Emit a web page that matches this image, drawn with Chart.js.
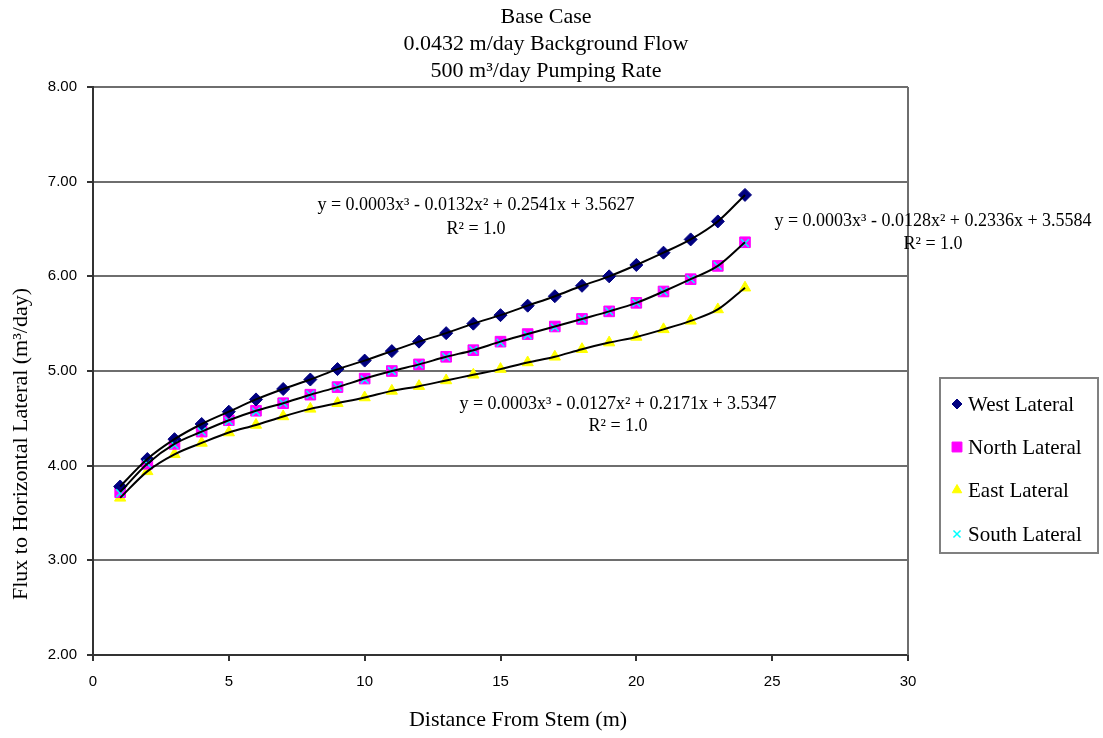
<!DOCTYPE html>
<html>
<head>
<meta charset="utf-8">
<script src="https://cdn.jsdelivr.net/npm/chart.js@4/dist/chart.umd.min.js"></script>
<style>
html,body{margin:0;padding:0;background:#fff;}
#wrap{width:1103px;height:738px;}
</style>
</head>
<body>
<div id="wrap"><canvas id="c" width="1103" height="738"></canvas></div>
<script>
const distance = [1,2,3,4,5,6,7,8,9,10,11,12,13,14,15,16,17,18,19,20,21,22,23,24];
const westLateral  = [3.78,4.07,4.28,4.44,4.57,4.70,4.81,4.91,5.02,5.11,5.21,5.31,5.40,5.50,5.59,5.69,5.79,5.90,6.00,6.12,6.25,6.39,6.58,6.86];
const northLateral = [3.72,4.02,4.23,4.36,4.48,4.58,4.66,4.75,4.83,4.92,5.00,5.07,5.15,5.22,5.31,5.39,5.47,5.55,5.63,5.72,5.84,5.97,6.11,6.36];
const eastLateral  = [3.66,3.94,4.12,4.24,4.35,4.43,4.52,4.60,4.66,4.72,4.79,4.84,4.90,4.96,5.02,5.09,5.15,5.23,5.30,5.36,5.44,5.53,5.65,5.88];
const southLateral = [3.71,4.02,4.22,4.36,4.47,4.57,4.66,4.75,4.83,4.91,5.00,5.07,5.15,5.22,5.30,5.38,5.46,5.55,5.63,5.72,5.84,5.97,6.11,6.35];
const seriesNames = ['West Lateral','North Lateral','East Lateral','South Lateral'];
const titleLines = ['Base Case','0.0432 m/day Background Flow','500 m\u00B3/day Pumping Rate'];
const xTitle = 'Distance From Stem (m)';
const yTitle = 'Flux to Horizontal Lateral (m\u00B3/day)';
const trendEquations = [
  ['y = 0.0003x\u00B3 - 0.0132x\u00B2 + 0.2541x + 3.5627','R\u00B2 = 1.0'],
  ['y = 0.0003x\u00B3 - 0.0128x\u00B2 + 0.2336x + 3.5584','R\u00B2 = 1.0'],
  ['y = 0.0003x\u00B3 - 0.0127x\u00B2 + 0.2171x + 3.5347','R\u00B2 = 1.0']
];

const SERIF = '"Liberation Serif","Times New Roman",serif';
const SANS = '"Liberation Sans",Arial,sans-serif';
const pts = arr => distance.map((d,i)=>({x:d,y:arr[i]}));

const styles = [
  {color:'#000080', pointStyle:'rectRot', radius:6.5, legendRadius:5},
  {color:'#FF00FF', pointStyle:'rect', radius:7.5, legendRadius:7},
  {color:'#FFFF00', pointStyle:'triangle', radius:6.5, legendRadius:5.5},
  {color:'#00FFFF', pointStyle:'crossRot', radius:5.5, legendRadius:5}
];
const seriesData = [westLateral, northLateral, eastLateral, southLateral];

const datasets = [];
seriesData.forEach((arr,i)=>{
  const s = styles[i];
  datasets.push({
    label: seriesNames[i],
    data: pts(arr),
    showLine: false,
    pointStyle: s.pointStyle,
    pointRadius: s.radius,
    pointBackgroundColor: s.color,
    pointBorderColor: s.color,
    pointBorderWidth: i===3 ? 1.5 : 1,
    order: i===3 ? 1 : 2
  });
});
// trendlines: smooth curves through the read values
[westLateral, northLateral, eastLateral].forEach((arr)=>{
  datasets.push({
    label: 'trend',
    data: pts(arr),
    showLine: true,
    borderColor: '#000000',
    borderWidth: 2,
    pointRadius: 0,
    cubicInterpolationMode: 'monotone',
    fill: false,
    order: 0
  });
});

const eqPos = [
  {x:476, y1:205, y2:229},
  {x:933, y1:221, y2:244},
  {x:618, y1:404, y2:426}
];

const extras = {
  id:'extras',
  afterDraw(chart){
    const ctx = chart.ctx;
    const a = chart.chartArea;
    ctx.save();
    // right border
    ctx.strokeStyle = '#6e6e6e';
    ctx.lineWidth = 2;
    ctx.beginPath();
    ctx.moveTo(a.right, a.top);
    ctx.lineTo(a.right, a.bottom);
    ctx.stroke();

    ctx.fillStyle = '#000';
    ctx.textAlign = 'center';
    ctx.textBaseline = 'middle';

    // title
    ctx.font = '22px ' + SERIF;
    titleLines.forEach((t,i)=> ctx.fillText(t, 546, 17 + i*27));

    // trendline equations
    ctx.font = '18px ' + SERIF;
    trendEquations.forEach((eq,i)=>{
      ctx.fillText(eq[0], eqPos[i].x, eqPos[i].y1);
      ctx.fillText(eq[1], eqPos[i].x, eqPos[i].y2);
    });

    // axis titles
    ctx.font = '22px ' + SERIF;
    ctx.fillText(xTitle, 518, 720);
    ctx.save();
    ctx.translate(21, 444);
    ctx.rotate(-Math.PI/2);
    ctx.fillText(yTitle, 0, 0);
    ctx.restore();

    // legend
    ctx.strokeStyle = '#808080';
    ctx.lineWidth = 2;
    ctx.strokeRect(940, 378, 158, 175);
    const ly = [404, 447, 490, 534];
    ctx.font = '21px ' + SERIF;
    ctx.textAlign = 'left';
    seriesNames.forEach((n,i)=>{
      const s = styles[i];
      ctx.fillStyle = s.color;
      ctx.strokeStyle = s.color;
      ctx.lineWidth = i===3 ? 1.5 : 1;
      Chart.helpers.drawPoint(ctx, {pointStyle:s.pointStyle, radius:s.legendRadius, rotation:0, borderWidth:ctx.lineWidth}, 957, ly[i]);
      ctx.fillStyle = '#000';
      ctx.fillText(n, 968, ly[i]+1);
    });
    ctx.restore();
  }
};

new Chart(document.getElementById('c'), {
  type: 'scatter',
  data: { datasets },
  options: {
    responsive: false,
    animation: false,
    layout: { padding: { left: 0, right: 195, top: 87, bottom: 0 } },
    plugins: {
      legend: { display: false },
      tooltip: { enabled: false },
      title: { display: false }
    },
    scales: {
      x: {
        type: 'linear',
        min: 0, max: 30,
        ticks: { stepSize: 5, color: '#000', font: { family: SANS, size: 15 }, padding: 12, maxRotation: 0 },
        grid: { drawOnChartArea: false, drawTicks: true, tickLength: 6, color: '#333', lineWidth: 2 },
        border: { display: true, color: '#333', width: 2 },
        afterFit: s => { s.height = 83; }
      },
      y: {
        type: 'linear',
        min: 2, max: 8,
        ticks: { stepSize: 1, color: '#000', font: { family: SANS, size: 15 }, padding: 10, callback: v => v.toFixed(2) },
        grid: { color: '#6e6e6e', lineWidth: 2, tickLength: 6, tickColor: '#333' },
        border: { display: true, color: '#333', width: 2 },
        afterFit: s => { s.width = 93; }
      }
    }
  },
  plugins: [extras]
});
</script>
</body>
</html>
